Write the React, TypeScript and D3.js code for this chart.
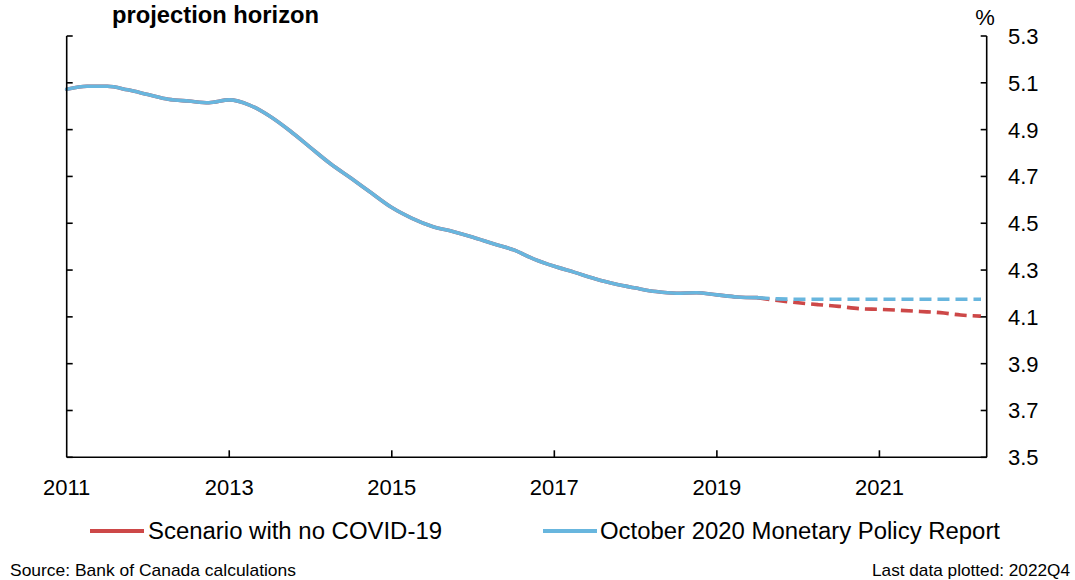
import React, { useEffect, useRef } from "react";
import * as d3 from "d3";

// ---- Data ----
const startYear = 2011; // first quarter plotted: 2011Q1
const historical = [
  5.072, 5.085, 5.085, 5.07, 5.05, 5.03, 5.022, 5.015, 5.027, 5.005, 4.957, 4.894,
  4.823, 4.753, 4.692, 4.629, 4.567, 4.521, 4.486, 4.465, 4.44, 4.412, 4.386, 4.347,
  4.316, 4.29, 4.263, 4.24, 4.223, 4.208, 4.201, 4.203, 4.194, 4.185, 4.182,
];
// projections start at the last historical quarter (index 34)
const projNoCovid = [4.182, 4.17, 4.16, 4.152, 4.145, 4.135, 4.132, 4.128, 4.123, 4.118, 4.108, 4.103];
const projMPR = [4.182, 4.177, 4.175, 4.175, 4.175, 4.175, 4.175, 4.175, 4.175, 4.175, 4.175, 4.175];
const xTicks = [2011, 2013, 2015, 2017, 2019, 2021];
const yTicks = [3.5, 3.7, 3.9, 4.1, 4.3, 4.5, 4.7, 4.9, 5.1, 5.3];
const seriesNames = ["Scenario with no COVID-19", "October 2020 Monetary Policy Report"];
const titleText = "projection horizon";
const sourceText = "Source: Bank of Canada calculations";
const lastDataText = "Last data plotted: 2022Q4";

const RED = "#cd4848";
const BLUE = "#68b6de";
const FONT = "Arial, 'Liberation Sans', Helvetica, sans-serif";

export default function App() {
  const ref = useRef<SVGSVGElement | null>(null);

  useEffect(() => {
    const svg = d3.select(ref.current);
    svg.selectAll("*").remove();

    const left = 66.7, right = 986.7, top = 36, bottom = 457.3;
    const x = d3.scaleLinear().domain([2011, 2022.32]).range([left, right]);
    const y = d3.scaleLinear().domain([3.5, 5.3]).range([bottom, top]);

    const histPts = historical.map((v, i) => [startYear + i / 4, v] as [number, number]);
    const projStart = historical.length - 1;
    const redPts = projNoCovid.map((v, i) => [startYear + (projStart + i) / 4, v] as [number, number]);
    const bluePts = projMPR.map((v, i) => [startYear + (projStart + i) / 4, v] as [number, number]);

    const line = d3
      .line<[number, number]>()
      .x((d) => x(d[0]))
      .y((d) => y(d[1]))
      .curve(d3.curveMonotoneX);

    const g = svg.append("g");

    // Title (second line visible)
    g.append("text")
      .attr("x", 112)
      .attr("y", 23)
      .attr("font-family", FONT)
      .attr("font-weight", "bold")
      .attr("font-size", 23.5)
      .attr("fill", "#000")
      .attr("textLength", 207)
      .attr("lengthAdjust", "spacingAndGlyphs")
      .text(titleText);

    // Lines
    const drawLine = (pts: [number, number][], color: string, dashed: boolean) => {
      const p = g
        .append("path")
        .attr("d", line(pts) as string)
        .attr("fill", "none")
        .attr("stroke", color)
        .attr("stroke-width", 3.6)
        .attr("stroke-linejoin", "round");
      if (dashed) p.attr("stroke-dasharray", "12,6");
      else p.attr("stroke-linecap", "round");
    };
    drawLine(histPts, RED, false);
    drawLine(redPts, RED, true);
    drawLine(histPts, BLUE, false);
    drawLine(bluePts, BLUE, true);

    // Axes
    const axisG = g.append("g").attr("stroke", "#000").attr("stroke-width", 1.6).attr("fill", "none");
    axisG.append("line").attr("x1", left).attr("x2", left).attr("y1", top).attr("y2", bottom);
    axisG.append("line").attr("x1", right).attr("x2", right).attr("y1", top).attr("y2", bottom);
    axisG.append("line").attr("x1", left).attr("x2", right).attr("y1", bottom).attr("y2", bottom);

    yTicks.forEach((t) => {
      axisG.append("line").attr("x1", left).attr("x2", left + 6).attr("y1", y(t)).attr("y2", y(t));
      axisG.append("line").attr("x1", right - 6).attr("x2", right).attr("y1", y(t)).attr("y2", y(t));
    });
    xTicks.forEach((t) => {
      if (t === 2011) return;
      axisG.append("line").attr("x1", x(t)).attr("x2", x(t)).attr("y1", bottom).attr("y2", bottom - 7);
    });

    // Y labels (right)
    g.selectAll("text.ylab")
      .data(yTicks)
      .enter()
      .append("text")
      .attr("class", "ylab")
      .attr("x", 1008)
      .attr("y", (d) => y(d) + 8)
      .attr("font-family", FONT)
      .attr("font-size", 22)
      .attr("fill", "#000")
      .text((d) => d3.format(".1f")(d));

    g.append("text")
      .attr("x", 985)
      .attr("y", 25)
      .attr("text-anchor", "middle")
      .attr("font-family", FONT)
      .attr("font-size", 22)
      .attr("fill", "#000")
      .text("%");

    // X labels
    g.selectAll("text.xlab")
      .data(xTicks)
      .enter()
      .append("text")
      .attr("class", "xlab")
      .attr("x", (d) => x(d))
      .attr("y", 495)
      .attr("text-anchor", "middle")
      .attr("font-family", FONT)
      .attr("font-size", 22)
      .attr("fill", "#000")
      .text((d) => String(d));

    // Legend
    const legend = [
      { name: seriesNames[0], color: RED, x0: 90, tx: 148, w: 294 },
      { name: seriesNames[1], color: BLUE, x0: 543, tx: 600, w: 400 },
    ];
    legend.forEach((l) => {
      g.append("line")
        .attr("x1", l.x0)
        .attr("x2", l.x0 + 54)
        .attr("y1", 531)
        .attr("y2", 531)
        .attr("stroke", l.color)
        .attr("stroke-width", 4);
      g.append("text")
        .attr("x", l.tx)
        .attr("y", 539)
        .attr("font-family", FONT)
        .attr("font-size", 23)
        .attr("fill", "#000")
        .attr("textLength", l.w)
        .attr("lengthAdjust", "spacingAndGlyphs")
        .text(l.name);
    });

    // Footer
    g.append("text")
      .attr("x", 10)
      .attr("y", 576)
      .attr("font-family", FONT)
      .attr("font-size", 17)
      .attr("fill", "#000")
      .attr("textLength", 286)
      .attr("lengthAdjust", "spacingAndGlyphs")
      .text(sourceText);
    g.append("text")
      .attr("x", 1070)
      .attr("y", 576)
      .attr("text-anchor", "end")
      .attr("font-family", FONT)
      .attr("font-size", 17)
      .attr("fill", "#000")
      .attr("textLength", 198)
      .attr("lengthAdjust", "spacingAndGlyphs")
      .text(lastDataText);
  }, []);

  return (
    <svg
      ref={ref}
      width={1075}
      height={580}
      style={{ position: "absolute", left: 0, top: 0, background: "#fff" }}
    />
  );
}
